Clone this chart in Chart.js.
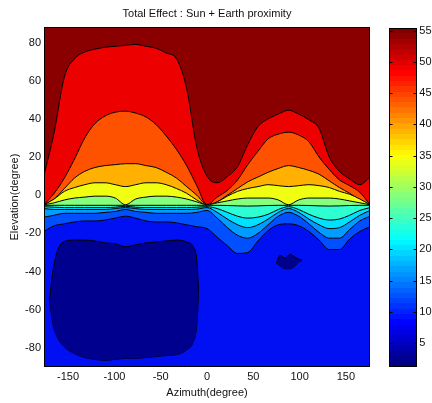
<!DOCTYPE html>
<html>
<head>
<meta charset="utf-8">
<script src="https://cdn.jsdelivr.net/npm/chart.js@4.4.1/dist/chart.umd.min.js"></script>
<style>
  html, body { margin: 0; padding: 0; background: #fff; }
  #wrap { position: relative; width: 432px; height: 403px; }
  #main { position: absolute; left: 0; top: 0; }
  #cbar { position: absolute; left: 380px; top: 0; }
</style>
</head>
<body>
<div id="wrap">
  <canvas id="main" width="432" height="403"></canvas>
  <canvas id="cbar" width="52" height="403"></canvas>
</div>
<script>
// azimuth samples (deg) for the contour boundaries
const azimuth = [-176, -165, -154, -143, -132, -121, -110, -99, -88, -77, -66, -55, -44, -33, -22, -11, 0,
                 11, 22, 33, 44, 55, 66, 77, 88, 99, 110, 121, 132, 143, 154, 165, 176];

// elevation (deg) where the total effect crosses each contour level
const level55 = [10.5, 33, 62, 71.5, 75, 76.5, 77.5, 78, 78.5, 79, 78, 77, 74.5, 71.5, 56, 25, 10,
                 6.5, 9.8, 15, 26.5, 36, 40, 42.5, 44.5, 42.5, 39.5, 35, 20, 12.5, 8.5, 5.5, 9.5];
const level50 = [-5, 1, 9, 19, 30, 37.5, 41.5, 43.5, 44, 43, 41, 37, 31, 24, 15.5, 5, -5,
                 -1, 2.5, 8, 16, 23, 29.5, 32, 33, 31.5, 28, 20, 13.5, 8, 5, 1.5, -5];
const level45 = [-5, -2, 3.5, 9, 12.5, 14.5, 15.5, 16, 16.5, 16.5, 15.5, 14.5, 12, 9, 4.5, 0, -5,
                 -3.5, 0, 3.5, 7, 9.5, 12, 14, 15.5, 14.5, 13, 11, 7.5, 4, 1, -2.5, -5];
const level40 = [-5, -2, 2, 4, 5.5, 6.5, 6.5, 5.5, 4.5, 5.5, 6.5, 6.5, 5.5, 3.5, 1, -2.5, -5,
                 -3.5, -0.5, 2, 3.5, 4.5, 5.5, 5, 4.5, 5, 5.5, 5, 4, 2, 0.5, -2, -5];
const level35 = [-5, -4, -2.5, -1.5, -1, -0.5, -0.5, -1.5, -5, -2, -1, -0.5, -0.5, -1, -2, -3.5, -5,
                 -4, -3, -2, -1.5, -1.5, -1.5, -2.5, -5, -2.5, -1.5, -1.5, -1.5, -2, -3, -4, -5];
const level30 = [-5.3, -5.3, -5.3, -5.3, -5.3, -5.3, -5.3, -5.3, -5.3, -5.3, -5.3, -5.3, -5.3, -5.3, -5.3, -5.3, -5.3,
                 -5.3, -5.4, -5.6, -5.7, -5.6, -5.4, -5.3, -5.3, -5.3, -5.4, -5.6, -5.7, -5.6, -5.4, -5.3, -5.3];
const level25 = [-6, -6.3, -6.5, -6.5, -6.5, -6.5, -6.5, -6.3, -5.8, -6.3, -6.5, -6.5, -6.5, -6.5, -6.5, -6.3, -6,
                 -7, -9, -11, -12, -11.5, -10, -7.5, -6, -7.5, -10, -12, -13, -12.5, -10.5, -8, -6.5];
const level20 = [-7, -7.5, -7.5, -7.5, -7.5, -7.5, -7.5, -7, -6.5, -7, -7.5, -7.5, -7.5, -7.5, -7.5, -7.3, -6.5,
                 -9, -12.5, -15.5, -17, -15.5, -12.5, -9, -7, -9, -12.5, -15.5, -17.5, -17, -14, -10.5, -8];
const level15 = [-11.5, -10.5, -9.5, -9.5, -9.5, -9.5, -9, -8.5, -7.5, -8.5, -9, -9.5, -9.5, -9.5, -9.5, -9, -8,
                 -12, -17, -21, -22.5, -20, -15.5, -11, -9, -11, -15, -19.5, -22.5, -22.5, -18, -13.5, -11];
const level10 = [-19, -16, -15, -14, -13.5, -13.5, -13, -12, -11, -12, -13.5, -14, -14, -14.5, -15.5, -16.5, -17.5,
                 -22, -26.5, -30.5, -30, -24, -18.5, -15.5, -15, -16, -19, -23.5, -28.5, -28.5, -23, -19, -16.5];

// closed regions under level 5
const lowAzimuth = [-170, -167, -162, -155, -143, -132, -121, -110, -99, -88, -77, -66, -55, -44, -33, -22, -15, -11, -9];
const lowTop     = [-55, -42, -30, -24.5, -23.5, -23.5, -24, -25, -25.5, -27, -26, -25, -24.5, -24, -23.5, -24.5, -27, -34, -50];
const lowBottom  = [-55, -66, -74, -79, -83, -85, -86, -86.5, -86, -85.5, -85.5, -85, -84.5, -84, -83.5, -81, -77, -68, -50];
const spotAzimuth = [75, 79, 84, 90, 95, 99, 102.5];
const spotTop     = [-35.5, -31.5, -33, -31, -32.5, -33.5, -34];
const spotBottom  = [-35.5, -37, -38.5, -38.5, -37, -35, -34];

const contourLevels = [55, 50, 45, 40, 35, 30, 25, 20, 15, 10];
const boundaries = [level55, level50, level45, level40, level35, level30, level25, level20, level15, level10];

const azimuthTicks = [-150, -100, -50, 0, 50, 100, 150];
const elevationTicks = [-80, -60, -40, -20, 0, 20, 40, 60, 80];
const colorRange = [1.2, 55.4];
const colorTicks = [5, 10, 15, 20, 25, 30, 35, 40, 45, 50, 55];

// band fills, highest band first
const bandColors = ['#8A0000', '#EC0000', '#FF5200', '#FFB000', '#F0FF12', '#86FF7C',
                    '#2EFFD2', '#00E0FF', '#009CFF', '#0050FF', '#0010F2', '#00008E'];

Chart.defaults.font.family = '"Liberation Sans", Arial, Helvetica, sans-serif';
Chart.defaults.font.size = 11;
Chart.defaults.color = '#111';

function jet(t) {
  const c = v => Math.round(255 * Math.min(1, Math.max(0, v)));
  return 'rgb(' + c(1.5 - Math.abs(4 * t - 3)) + ',' + c(1.5 - Math.abs(4 * t - 2)) + ',' + c(1.5 - Math.abs(4 * t - 1)) + ')';
}

const toPoints = (xs, ys) => xs.map((x, i) => ({ x: x, y: ys[i] }));

const lineStyle = {
  borderColor: '#000',
  borderWidth: 1,
  pointRadius: 0,
  cubicInterpolationMode: 'monotone'
};

const datasets = boundaries.map((vals, i) => Object.assign({
  label: 'level ' + contourLevels[i],
  data: toPoints(azimuth, vals),
  fill: 'start',
  backgroundColor: bandColors[i + 1],
  order: 30 - i
}, lineStyle));

const lowIdx = datasets.length;
datasets.push(Object.assign({ label: 'low top', data: toPoints(lowAzimuth, lowTop), fill: lowIdx + 1, backgroundColor: bandColors[11], order: 2 }, lineStyle));
datasets.push(Object.assign({ label: 'low bottom', data: toPoints(lowAzimuth, lowBottom), fill: false, order: 2 }, lineStyle));
datasets.push(Object.assign({ label: 'spot top', data: toPoints(spotAzimuth, spotTop), fill: lowIdx + 3, backgroundColor: bandColors[11], order: 1 }, lineStyle));
datasets.push(Object.assign({ label: 'spot bottom', data: toPoints(spotAzimuth, spotBottom), fill: false, order: 1 }, lineStyle));

// dark red everywhere above the highest level, then a black box round the axes
const plotBackground = {
  id: 'plotBackground',
  beforeDatasetsDraw(chart) {
    const { ctx, chartArea: a } = chart;
    ctx.save();
    ctx.fillStyle = bandColors[0];
    ctx.fillRect(a.left, a.top, a.width, a.height);
    ctx.restore();
  },
  afterDatasetsDraw(chart) {
    const { ctx, chartArea: a } = chart;
    ctx.save();
    ctx.strokeStyle = '#000';
    ctx.lineWidth = 1;
    ctx.strokeRect(Math.round(a.left) + 0.5, Math.round(a.top) + 0.5, Math.round(a.width) - 1, Math.round(a.height) - 1);
    ctx.restore();
  }
};

const noGrid = { display: false, drawTicks: false };

new Chart(document.getElementById('main'), {
  type: 'line',
  data: { datasets: datasets },
  options: {
    responsive: false,
    animation: false,
    layout: { padding: { left: 0, right: 62, top: 0, bottom: 0 } },
    scales: {
      x: {
        type: 'linear', min: -176, max: 176,
        afterBuildTicks: s => { s.ticks = azimuthTicks.map(v => ({ value: v })); },
        afterFit: s => { s.height = 36; },
        grid: noGrid,
        border: { display: false },
        ticks: { padding: 3, maxRotation: 0 },
        title: { display: true, text: 'Azimuth(degree)', padding: { top: 0, bottom: 3 } }
      },
      y: {
        type: 'linear', min: -90, max: 88,
        afterBuildTicks: s => { s.ticks = elevationTicks.map(v => ({ value: v })); },
        afterFit: s => { s.width = 44; },
        grid: noGrid,
        border: { display: false },
        ticks: { padding: 3 },
        title: { display: true, text: 'Elevation(degree)', padding: { top: 8, bottom: 0 } }
      }
    },
    plugins: {
      legend: { display: false },
      tooltip: { enabled: false },
      title: {
        display: true,
        text: 'Total Effect : Sun + Earth proximity',
        fullSize: false,
        padding: { top: 7, bottom: 7 },
        font: { size: 11, weight: 'normal' },
        color: '#111'
      }
    }
  },
  plugins: [plotBackground]
});

// colour bar: one floating bar spanning the colour limits, filled with jet
function jetFill(context) {
  const chart = context.chart;
  if (!chart.chartArea) return null;
  const y = chart.scales.y;
  const g = chart.ctx.createLinearGradient(0, y.getPixelForValue(colorRange[0]), 0, y.getPixelForValue(colorRange[1]));
  const n = 64;
  for (let i = 0; i < n; i++) {
    const c = jet(i / (n - 1));
    g.addColorStop(i / n, c);
    g.addColorStop(Math.min(1, (i + 1) / n - 0.0001), c);
  }
  return g;
}

const colorbarFrame = {
  id: 'colorbarFrame',
  afterDatasetsDraw(chart) {
    const { ctx, chartArea: a } = chart;
    const y = chart.scales.y;
    ctx.save();
    ctx.strokeStyle = '#000';
    ctx.lineWidth = 1;
    const l = Math.round(a.left) + 0.5, r = Math.round(a.right) - 0.5;
    ctx.strokeRect(l, Math.round(a.top) + 0.5, r - l, Math.round(a.height) - 1);
    ctx.beginPath();
    colorTicks.forEach(v => {
      const py = Math.round(y.getPixelForValue(v)) + 0.5;
      ctx.moveTo(l, py); ctx.lineTo(l + 3, py);
      ctx.moveTo(r, py); ctx.lineTo(r - 3, py);
    });
    ctx.stroke();
    ctx.restore();
  }
};

new Chart(document.getElementById('cbar'), {
  type: 'bar',
  data: {
    labels: [''],
    datasets: [{ data: [colorRange], backgroundColor: jetFill, borderWidth: 0, barPercentage: 1, categoryPercentage: 1 }]
  },
  options: {
    responsive: false,
    animation: false,
    layout: { padding: { left: 9.3, right: 0, top: 28, bottom: 36 } },
    scales: {
      x: { display: false },
      y: {
        position: 'right', min: colorRange[0], max: colorRange[1],
        afterBuildTicks: s => { s.ticks = colorTicks.map(v => ({ value: v })); },
        afterFit: s => { s.width = 15.3; },
        grid: noGrid,
        border: { display: false },
        ticks: { padding: 2.6 }
      }
    },
    plugins: { legend: { display: false }, tooltip: { enabled: false } }
  },
  plugins: [colorbarFrame]
});
</script>
</body>
</html>
